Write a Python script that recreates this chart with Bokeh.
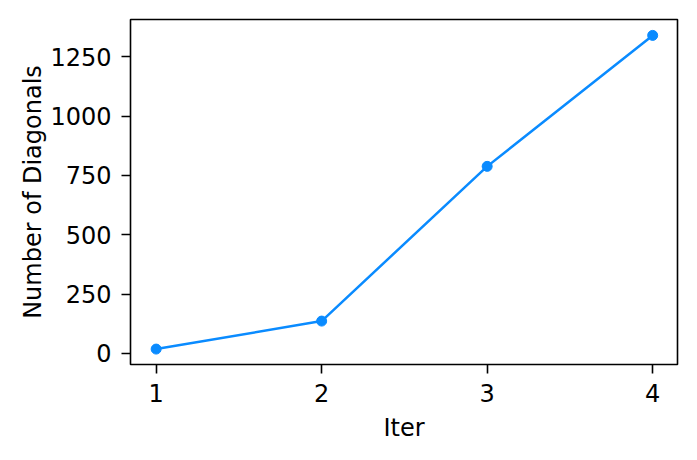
from bokeh.plotting import figure
from bokeh.models import Range1d, FixedTicker
from bokeh.embed import file_html
from bokeh.resources import INLINE

iters = [1, 2, 3, 4]
diagonals = [18, 136, 788, 1340]
x_ticks = [1, 2, 3, 4]
y_ticks = [0, 250, 500, 750, 1000, 1250]

color = "#0a8bff"
FONT = "DejaVu Sans"
FS = "24px"

p = figure(width=697, height=460, output_backend="svg", toolbar_location=None,
           x_range=Range1d(0.845, 4.15), y_range=Range1d(-47, 1407),
           min_border_left=130, min_border_right=20, min_border_top=19, min_border_bottom=96)

p.line(iters, diagonals, line_color=color, line_width=2.5)
p.scatter(iters, diagonals, size=10, fill_color=color, line_color=color)

p.xgrid.visible = False
p.ygrid.visible = False
p.background_fill_color = "white"
p.border_fill_color = "white"
p.outline_line_color = "black"
p.outline_line_width = 1.6
p.outline_line_alpha = 1.0

p.xaxis.ticker = FixedTicker(ticks=x_ticks)
p.yaxis.ticker = FixedTicker(ticks=y_ticks)
p.xaxis.axis_label = "Iter"
p.yaxis.axis_label = "Number of Diagonals"

for ax in (p.xaxis, p.yaxis):
    ax.axis_line_color = None
    ax.major_tick_out = 9
    ax.major_tick_in = 0
    ax.major_tick_line_width = 1.6
    ax.major_tick_line_color = "black"
    ax.minor_tick_line_color = None
    ax.major_label_text_font = FONT
    ax.major_label_text_font_size = FS
    ax.major_label_text_color = "black"
    ax.axis_label_text_font = FONT
    ax.axis_label_text_font_size = FS
    ax.axis_label_text_font_style = "normal"
    ax.axis_label_text_color = "black"
    ax.major_label_standoff = 10

p.xaxis.axis_label_standoff = 9
p.yaxis.axis_label_standoff = 0

open("out.html", "w").write(file_html(p, INLINE))
